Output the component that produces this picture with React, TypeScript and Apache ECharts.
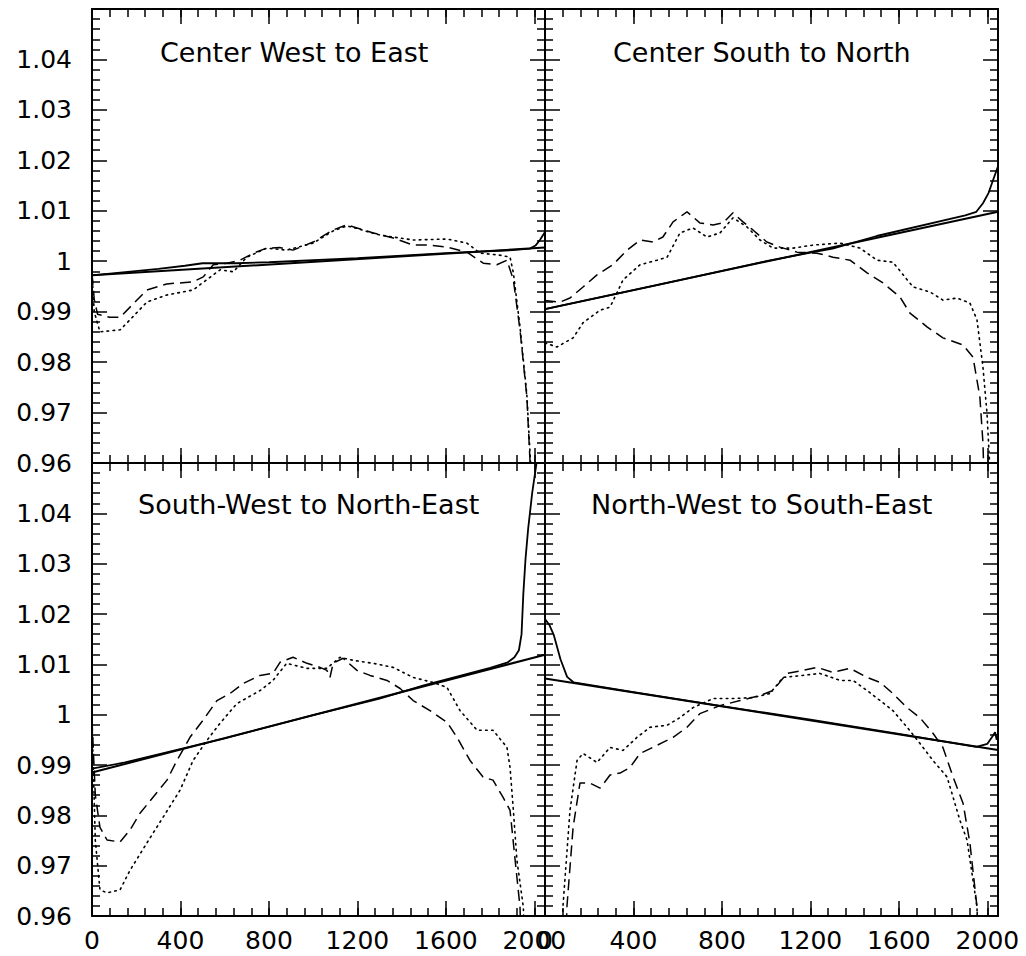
import React, { useEffect, useRef } from "react";
import * as echarts from "echarts";

// ---- Data (x: pixel index 0..2048, y: normalized value) ----
const xTickLabels = [0, 400, 800, 1200, 1600, 2000];
const yTickLabels = [0.96, 0.97, 0.98, 0.99, 1, 1.01, 1.02, 1.03, 1.04];

const panelTitles = [
  "Center West to East",
  "Center South to North",
  "South-West to North-East",
  "North-West to South-East",
];

// Panel 1: Center West to East
const cweFit: number[][] = [[0, 0.9972], [2048, 1.0027]];
const cweMeas: number[][] = [[0, 0.9972], [300, 0.9985], [420, 0.9991], [500, 0.9996], [650, 0.9996], [800, 0.9998], [1200, 1.0006], [1600, 1.0016], [1900, 1.0022], [1980, 1.0025], [2005, 1.0031], [2025, 1.0042], [2048, 1.0058]];
const cweDashed: number[][] = [[0, 0.9975], [10, 0.9925], [25, 0.9895], [80, 0.9889], [127, 0.9889], [172, 0.9909], [248, 0.9943], [338, 0.9955], [457, 0.9959], [503, 0.9969], [548, 0.9993], [610, 0.9996], [669, 1.0002], [730, 1.0016], [790, 1.0026], [849, 1.0027], [909, 1.0022], [1000, 1.0038], [1090, 1.0062], [1152, 1.0072], [1198, 1.0066], [1272, 1.0056], [1362, 1.0046], [1452, 1.0032], [1528, 1.0032], [1605, 1.0028], [1695, 1.0018], [1769, 0.9996], [1830, 0.9993], [1876, 1.0002], [1905, 0.9963], [1935, 0.9864], [1966, 0.9731], [1980, 0.9606], [1985, 0.955]];
const cweDotted: number[][] = [[0, 0.9975], [10, 0.99], [36, 0.986], [127, 0.9864], [172, 0.9884], [248, 0.9919], [338, 0.9933], [457, 0.9943], [518, 0.9963], [579, 0.9983], [639, 0.9979], [700, 1.0008], [790, 1.0026], [880, 1.0022], [1000, 1.0036], [1090, 1.006], [1152, 1.007], [1198, 1.0065], [1250, 1.0058], [1302, 1.0052], [1362, 1.0048], [1452, 1.0042], [1605, 1.0044], [1695, 1.0036], [1754, 1.0016], [1845, 1.0012], [1890, 1.0008], [1905, 0.9977], [1935, 0.987], [1966, 0.9735], [1982, 0.9606], [1988, 0.955]];

// Panel 2: Center South to North
const csnFit: number[][] = [[0, 0.9905], [2048, 1.0098]];
const csnMeas: number[][] = [[0, 0.9905], [500, 0.9952], [1000, 1.0], [1200, 1.0017], [1300, 1.0025], [1500, 1.005], [1900, 1.0091], [1950, 1.0098], [1980, 1.0115], [2005, 1.0135], [2025, 1.016], [2048, 1.0188]];
const csnDashed: number[][] = [[0, 0.9922], [68, 0.9919], [113, 0.9927], [172, 0.9949], [235, 0.9973], [307, 0.9993], [371, 1.0022], [430, 1.0042], [488, 1.0038], [533, 1.0048], [579, 1.0078], [642, 1.0098], [700, 1.0076], [760, 1.0072], [805, 1.0076], [850, 1.0096], [895, 1.0078], [940, 1.0062], [1003, 1.0038], [1062, 1.0028], [1139, 1.0018], [1230, 1.0016], [1302, 1.0008], [1379, 1.0002], [1456, 0.9977], [1528, 0.9957], [1605, 0.9929], [1650, 0.9897], [1727, 0.987], [1799, 0.9848], [1890, 0.9834], [1935, 0.981], [1966, 0.9731], [1980, 0.964], [1986, 0.955]];
const csnDotted: number[][] = [[0, 0.9838], [54, 0.983], [127, 0.9848], [172, 0.9878], [249, 0.9903], [294, 0.9909], [353, 0.9963], [430, 0.9993], [506, 1.0002], [552, 1.0008], [610, 1.0056], [669, 1.0066], [732, 1.0048], [791, 1.0056], [850, 1.0086], [913, 1.0068], [972, 1.0042], [1031, 1.0026], [1121, 1.0026], [1212, 1.0032], [1334, 1.0036], [1424, 1.0026], [1501, 1.0002], [1573, 0.9998], [1664, 0.9949], [1741, 0.9939], [1799, 0.9923], [1863, 0.9927], [1921, 0.9917], [1953, 0.9884], [1980, 0.979], [1998, 0.97], [2010, 0.96], [2014, 0.955]];

// Panel 3: South-West to North-East
const swneFit: number[][] = [[0, 0.9885], [2048, 1.0119]];
const swneMeas: number[][] = [[0, 0.9893], [150, 0.9905], [300, 0.9921], [600, 0.9953], [1000, 0.9999], [1300, 1.0032], [1500, 1.0058], [1800, 1.0093], [1880, 1.0104], [1910, 1.0114], [1930, 1.0128], [1942, 1.016], [1950, 1.024], [1960, 1.031], [1972, 1.037], [1990, 1.044], [2011, 1.0504], [2030, 1.056]];
const swneDashed: number[][] = [[0, 0.999], [15, 0.984], [36, 0.9776], [68, 0.9751], [127, 0.9747], [172, 0.9771], [217, 0.9804], [276, 0.9836], [339, 0.987], [384, 0.9909], [443, 0.9955], [502, 0.9989], [565, 1.0028], [624, 1.0042], [683, 1.0062], [760, 1.0078], [818, 1.0082], [850, 1.0104], [909, 1.0114], [972, 1.0102], [1031, 1.0094], [1062, 1.0088], [1076, 1.0074], [1090, 1.0102], [1135, 1.0112], [1198, 1.0088], [1257, 1.0078], [1334, 1.0068], [1393, 1.0052], [1452, 1.0028], [1528, 1.0008], [1605, 0.9985], [1650, 0.9955], [1709, 0.9909], [1768, 0.9876], [1813, 0.987], [1858, 0.9836], [1890, 0.981], [1905, 0.9745], [1921, 0.9677], [1935, 0.9618], [1940, 0.955]];
const swneDotted: number[][] = [[0, 0.999], [15, 0.975], [36, 0.9652], [68, 0.9646], [127, 0.9652], [172, 0.9691], [248, 0.9745], [321, 0.9796], [398, 0.985], [457, 0.9909], [520, 0.9949], [579, 0.9983], [655, 1.0022], [760, 1.0048], [818, 1.0068], [880, 1.0102], [972, 1.0092], [1062, 1.0092], [1121, 1.0114], [1180, 1.0108], [1271, 1.0102], [1361, 1.0094], [1452, 1.0074], [1542, 1.0064], [1605, 1.0054], [1664, 1.0008], [1741, 0.9969], [1813, 0.9969], [1876, 0.9935], [1890, 0.9895], [1905, 0.981], [1921, 0.9711], [1950, 0.9618], [1956, 0.955]];

// Panel 4: North-West to South-East
const nwseFit: number[][] = [[0, 1.0072], [2048, 0.993]];
const nwseMeas: number[][] = [[0, 1.019], [20, 1.0178], [40, 1.0158], [70, 1.011], [100, 1.0075], [130, 1.0064], [400, 1.0045], [800, 1.0017], [1200, 0.999], [1600, 0.9962], [1950, 0.9936], [2000, 0.9942], [2025, 0.9958], [2035, 0.9965], [2042, 0.995], [2048, 0.9962]];
const nwseDashed: number[][] = [[95, 0.955], [99, 0.9618], [127, 0.9776], [158, 0.9864], [203, 0.9864], [249, 0.9854], [294, 0.988], [339, 0.9884], [384, 0.9895], [430, 0.9923], [488, 0.9935], [533, 0.9945], [579, 0.9955], [642, 0.9975], [700, 1.0002], [791, 1.0018], [882, 1.0028], [972, 1.0038], [1031, 1.0048], [1094, 1.0082], [1166, 1.0088], [1230, 1.0094], [1302, 1.0084], [1379, 1.0092], [1456, 1.0074], [1515, 1.0064], [1573, 1.0042], [1637, 1.0014], [1695, 0.9994], [1754, 0.9963], [1799, 0.9935], [1845, 0.9876], [1890, 0.9824], [1921, 0.9745], [1953, 0.9618], [1958, 0.955]];
const nwseDotted: number[][] = [[77, 0.955], [81, 0.9618], [113, 0.981], [145, 0.9909], [172, 0.9923], [235, 0.9905], [294, 0.9935], [353, 0.9929], [416, 0.9955], [475, 0.9975], [552, 0.9979], [610, 0.9994], [669, 1.0014], [760, 1.0032], [850, 1.0032], [940, 1.0034], [1017, 1.0042], [1076, 1.0074], [1166, 1.0078], [1243, 1.0082], [1334, 1.0068], [1393, 1.0068], [1456, 1.0048], [1515, 1.0028], [1573, 1.0008], [1637, 0.9975], [1695, 0.9943], [1754, 0.9909], [1818, 0.9876], [1876, 0.979], [1908, 0.9751], [1935, 0.9671], [1953, 0.9618], [1957, 0.955]];

const panels = [
  { fit: cweFit, meas: cweMeas, dashed: cweDashed, dotted: cweDotted },
  { fit: csnFit, meas: csnMeas, dashed: csnDashed, dotted: csnDotted },
  { fit: swneFit, meas: swneMeas, dashed: swneDashed, dotted: swneDotted },
  { fit: nwseFit, meas: nwseMeas, dashed: nwseDashed, dotted: nwseDotted },
];

const FONT = "DejaVu Sans";

export default function App() {
  const ref = useRef<HTMLDivElement>(null);
  useEffect(() => {
    if (!ref.current) return;
    const chart = echarts.init(ref.current, null, { renderer: "svg" });

    const grids = [
      { left: 92, top: 9, width: 453, height: 454 },
      { left: 545, top: 9, width: 453, height: 454 },
      { left: 92, top: 463, width: 453, height: 453 },
      { left: 545, top: 463, width: 453, height: 453 },
    ];

    const tickStyle = { color: "#000", width: 1.5 };
    const xAxes: any[] = [];
    const yAxes: any[] = [];
    const series: any[] = [];

    grids.forEach((_, g) => {
      const showX = g >= 2;
      const showY = g === 0 || g === 2;
      const baseX = { type: "value", gridIndex: g, min: 0, max: 2048, splitLine: { show: false } };
      // bottom major
      xAxes.push({
        ...baseX,
        position: "bottom",
        interval: 400,
        axisLine: { show: true, onZero: false, lineStyle: { color: "#000", width: 2 } },
        axisTick: { show: true, inside: true, length: 15, lineStyle: tickStyle },
        axisLabel: {
          show: showX,
          showMinLabel: true,
          margin: 12,
          fontSize: 25,
          fontFamily: FONT,
          color: "#000",
          customValues: xTickLabels,
          formatter: (v: number) => (xTickLabels.includes(v) ? String(v) : ""),
        },
      });
      // bottom minor
      xAxes.push({
        ...baseX,
        position: "bottom",
        interval: 80,
        axisLine: { show: false, onZero: false },
        axisTick: { show: true, inside: true, length: 8, lineStyle: tickStyle },
        axisLabel: { show: false },
      });
      // top major
      xAxes.push({
        ...baseX,
        position: "top",
        interval: 400,
        axisLine: { show: true, onZero: false, lineStyle: { color: "#000", width: 2 } },
        axisTick: { show: true, inside: true, length: 15, lineStyle: tickStyle },
        axisLabel: { show: false },
      });
      // top minor
      xAxes.push({
        ...baseX,
        position: "top",
        interval: 80,
        axisLine: { show: false, onZero: false },
        axisTick: { show: true, inside: true, length: 8, lineStyle: tickStyle },
        axisLabel: { show: false },
      });

      const baseY = {
        type: "value",
        gridIndex: g,
        min: 0.96,
        max: 1.05,
        interval: 0.01,
        splitLine: { show: false },
        axisLine: { show: true, onZero: false, lineStyle: { color: "#000", width: 2 } },
        axisTick: { show: true, inside: true, length: 15, lineStyle: tickStyle },
        minorTick: { show: true, splitNumber: 5, length: 8, lineStyle: tickStyle },
        minorSplitLine: { show: false },
      };
      yAxes.push({
        ...baseY,
        position: "left",
        axisLabel: {
          show: showY,
          showMinLabel: true,
          showMaxLabel: false,
          margin: 20,
          fontSize: 25,
          fontFamily: FONT,
          color: "#000",
          formatter: (v: number) => {
            const r = Math.round(v * 100) / 100;
            return yTickLabels.includes(r) ? String(r) : "";
          },
        },
      });
      yAxes.push({ ...baseY, position: "right", axisLabel: { show: false } });

      const p = panels[g];
      const common = {
        type: "line",
        xAxisIndex: g * 4,
        yAxisIndex: g * 2,
        showSymbol: false,
        symbol: "none",
        clip: true,
        silent: true,
      };
      series.push({ ...common, data: p.dotted, lineStyle: { color: "#000", width: 1.6, type: [1.6, 4.4], cap: "round" } });
      series.push({ ...common, data: p.dashed, lineStyle: { color: "#000", width: 1.5, type: [11, 6] } });
      series.push({ ...common, data: p.meas, lineStyle: { color: "#000", width: 1.8, type: "solid" } });
      series.push({ ...common, data: p.fit, lineStyle: { color: "#000", width: 2, type: "solid" } });
    });

    const titlePos = [
      { x: 160, y: 52 },
      { x: 613, y: 52 },
      { x: 138, y: 504 },
      { x: 591, y: 504 },
    ];

    chart.setOption({
      animation: false,
      backgroundColor: "#fff",
      grid: grids.map((gr) => ({ ...gr, containLabel: false })),
      xAxis: xAxes,
      yAxis: yAxes,
      series,
      graphic: panelTitles.map((t, i) => ({
        type: "text",
        x: titlePos[i].x,
        y: titlePos[i].y,
        style: {
          text: t,
          font: `27px "${FONT}"`,
          fill: "#000",
          align: "left",
          verticalAlign: "middle",
        },
      })),
    });

    return () => chart.dispose();
  }, []);

  return (
    <div
      ref={ref}
      style={{ position: "absolute", left: 0, top: 0, width: 1026, height: 956, background: "#fff" }}
    />
  );
}
